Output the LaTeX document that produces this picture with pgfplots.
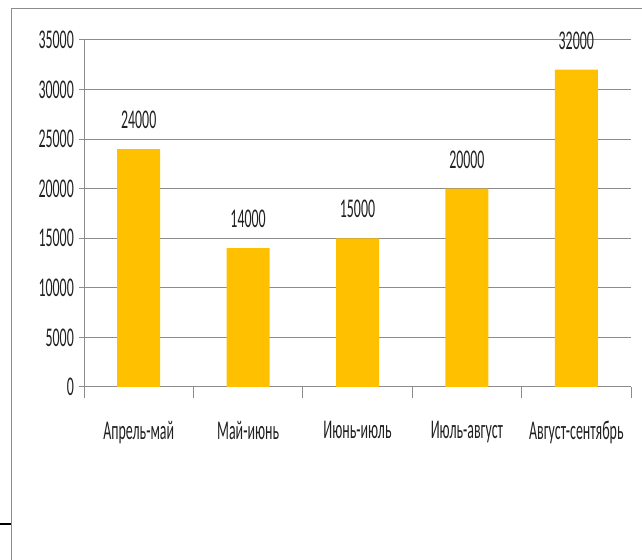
\documentclass[border=0pt]{standalone}
\usepackage{fontspec}
\setmainfont{Carlito}[FakeStretch=0.515]
\usepackage{pgfplots}
\pgfplotsset{compat=1.18}
\definecolor{barc}{HTML}{FFC000}
\definecolor{gridc}{HTML}{8C8C8C}
\definecolor{txt}{HTML}{202020}
\newcommand{\lf}{\fontsize{27bp}{31bp}\selectfont}
\begin{document}
\begin{tikzpicture}[x=1bp,y=1bp]
\useasboundingbox (0,0) rectangle (642,560);
\draw[gridc, line width=1bp] (11,0) -- (11,551) -- (642,551);
\draw[black, line width=2bp] (0,36) -- (11,36);
\begin{axis}[at={(84bp,173bp)}, anchor=south west, scale only axis,
  width=547bp, height=347bp, clip=false,
  ymin=0, ymax=35000, xmin=-0.5, xmax=4.5,
  axis x line*=bottom, axis y line*=left,
  axis line style={gridc, line width=1bp, -},
  ytick={0,5000,...,35000}, ymajorgrids,
  scaled y ticks=false,
  major grid style={gridc, line width=1bp},
  y tick style={gridc, line width=1bp},
  tick align=outside, major tick length=5bp,
  xtick={0,1,2,3,4},
  xticklabels={Апрель-май,Май-июнь,Июнь-июль,Июль-август,Август-сентябрь},
  x tick style={draw=none},
  extra x ticks={-0.5,0.5,1.5,2.5,3.5,4.5}, extra x tick labels={},
  extra x tick style={major tick length=11bp, xmajorgrids=false, x tick style={draw=gridc, line width=1bp}},
  /pgf/number format/assume math mode=true,
  /pgf/number format/1000 sep={},
  yticklabel style={font=\lf, text=txt, inner sep=0pt, anchor=east, xshift=-5bp},
  xticklabel style={font=\lf, text=txt, inner sep=0pt, anchor=north, yshift=-29bp},
]
\addplot[ybar, fill=barc, draw=none, bar width=43bp, nodes near coords,
  every node near coord/.append style={font=\lf, text=txt, anchor=south, inner sep=0pt, yshift=20bp}]
  coordinates {(0,24000) (1,14000) (2,15000) (3,20000) (4,32000)};
\end{axis}
\end{tikzpicture}
\end{document}
